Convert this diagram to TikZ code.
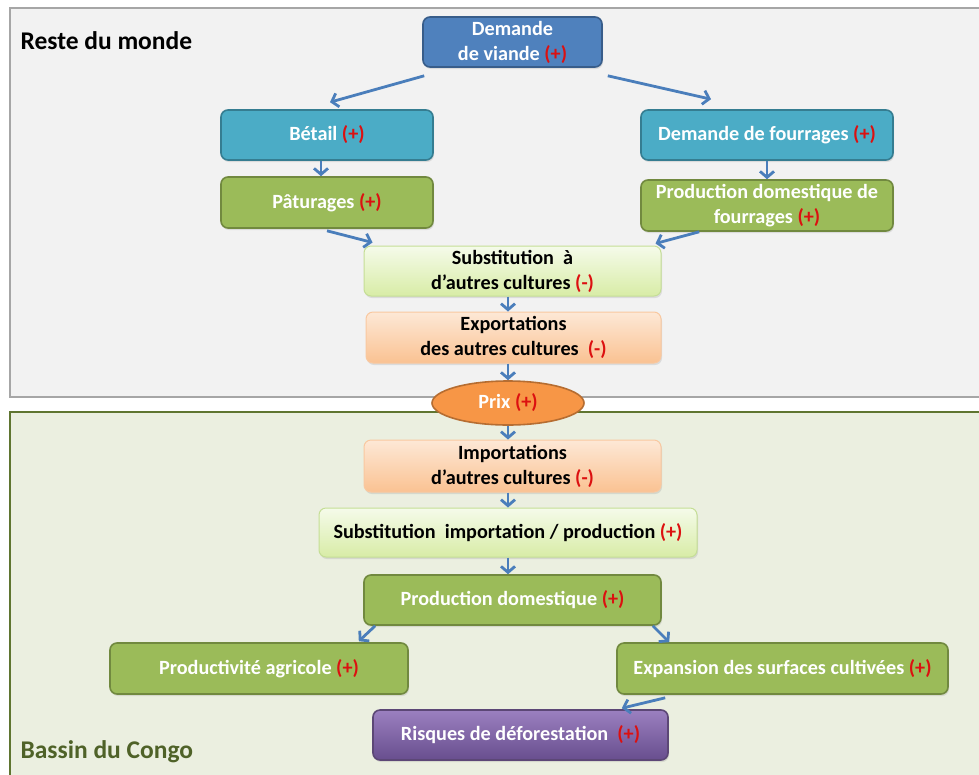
\documentclass[tikz,border=0pt]{standalone}
\usepackage{fontspec}
\setmainfont{Carlito}
\usetikzlibrary{arrows.meta,shapes.geometric,shadows}
\definecolor{topfill}{RGB}{242,242,242}
\definecolor{topline}{RGB}{166,166,166}
\definecolor{botfill}{RGB}{235,239,224}
\definecolor{botline}{RGB}{95,117,48}
\definecolor{congo}{RGB}{79,98,40}
\definecolor{arrowblue}{RGB}{74,126,187}
\definecolor{blueA}{RGB}{79,129,189}
\definecolor{blueB}{RGB}{56,93,138}
\definecolor{aquaA}{RGB}{75,172,198}
\definecolor{aquaB}{RGB}{53,125,145}
\definecolor{greenA}{RGB}{155,187,89}
\definecolor{greenB}{RGB}{113,137,63}
\definecolor{lgTop}{RGB}{245,251,234}
\definecolor{lgBot}{RGB}{216,236,166}
\definecolor{lgLine}{RGB}{197,222,150}
\definecolor{peTop}{RGB}{253,232,214}
\definecolor{peBot}{RGB}{250,194,146}
\definecolor{peLine}{RGB}{249,200,160}
\definecolor{orA}{RGB}{247,150,70}
\definecolor{orB}{RGB}{182,109,49}
\definecolor{puTop}{RGB}{155,128,192}
\definecolor{puBot}{RGB}{104,78,142}
\definecolor{puLine}{RGB}{92,71,118}
\definecolor{signred}{RGB}{220,16,16}
\newcommand\redplus{{\color{signred}(+)}}
\newcommand\redminus{{\color{signred}(-)}}
\tikzset{
  box/.style={rectangle, rounded corners=7pt, line width=1.6pt, align=center,
    inner sep=2pt, font=\fontsize{20.2}{25}\bfseries\selectfont,
    drop shadow={shadow xshift=1pt, shadow yshift=-2pt, opacity=0.2}},
  wbox/.style={box, text=white},
  kbox/.style={box, text=black},
  bluebox/.style={wbox, fill=blueA, draw=blueB},
  aquabox/.style={wbox, fill=aquaA, draw=aquaB},
  greenbox/.style={wbox, fill=greenA, draw=greenB},
  lgbox/.style={kbox, top color=lgTop, bottom color=lgBot, draw=lgLine, line width=1pt},
  pebox/.style={kbox, top color=peTop, bottom color=peBot, draw=peLine, line width=1pt},
  pubox/.style={wbox, top color=puTop, bottom color=puBot, draw=puLine},
  arr/.style={draw=arrowblue, line width=2.8pt, -{Straight Barb[length=6pt,width=14pt]}},
}
\begin{document}
\begin{tikzpicture}[x=1pt,y=-1pt]
\useasboundingbox (0,0) rectangle (979,774);
% panels
\draw[fill=topfill, draw=topline, line width=2pt] (10,8) rectangle (995,397);
\draw[fill=botfill, draw=botline, line width=2.5pt] (10,412) rectangle (995,795);
\node[anchor=west, font=\fontsize{25.5}{30}\bfseries\selectfont] (rdm) at (17,41) {Reste du monde};
\node[anchor=west, text=congo, font=\fontsize{25.5}{30}\bfseries\selectfont] (bdc) at (17,752) {Bassin du Congo};
% nodes
\node[bluebox, minimum width=179pt, minimum height=50pt] (dv) at (512.5,42) {Demande\\de viande \redplus};
\node[aquabox, minimum width=212pt, minimum height=50pt] (bt) at (327,135) {Bétail \redplus};
\node[aquabox, minimum width=252pt, minimum height=50pt] (df) at (767,135) {Demande de fourrages \redplus};
\node[greenbox, minimum width=212pt, minimum height=51pt] (pt) at (327,202.5) {Pâturages \redplus};
\node[greenbox, minimum width=252pt, minimum height=51pt] (pdf) at (767,205.5) {Production domestique de\\fourrages \redplus};
\node[lgbox, minimum width=297pt, minimum height=50pt] (sub) at (512.5,271) {Substitution~ à\\d’autres cultures \redminus};
\node[pebox, minimum width=295pt, minimum height=51pt] (exp) at (513.5,337.5) {Exportations\\des autres cultures~ \redminus};
\node[ellipse, fill=orA, draw=orB, line width=1.6pt, minimum width=152pt, minimum height=44pt,
  text=white, font=\fontsize{20.2}{25}\bfseries\selectfont] (prix) at (508,403) {Prix \redplus};
\node[pebox, minimum width=297pt, minimum height=52pt] (imp) at (512.5,466) {Importations\\d’autres cultures \redminus};
\node[lgbox, minimum width=378pt, minimum height=49pt] (sip) at (508,532.5) {Substitution~ importation / production \redplus};
\node[greenbox, minimum width=297pt, minimum height=50pt] (pd) at (512.5,600) {Production domestique \redplus};
\node[greenbox, minimum width=298pt, minimum height=51pt] (pa) at (259,668.5) {Productivité agricole \redplus};
\node[greenbox, minimum width=331pt, minimum height=51pt] (es) at (782.5,668.5) {Expansion des surfaces cultivées \redplus};
\node[pubox, minimum width=295pt, minimum height=50pt] (rd) at (520.5,735) {Risques de déforestation~ \redplus};
% connectors
\draw[arr] ([xshift=2pt,yshift=-8pt]dv.south west) -- ([xshift=3pt,yshift=7pt]bt.north);
\draw[arr] ([xshift=5pt,yshift=-8pt]dv.south east) -- ([xshift=-56pt,yshift=10pt]df.north);
\draw[arr] ([xshift=-6pt]bt.south) -- ([xshift=-6pt]pt.north);
\draw[arr] (df.south) -- (pdf.north);
\draw[arr] ([yshift=-2pt]pt.south) -- ([xshift=9pt,yshift=3pt]sub.north west);
\draw[arr] ([xshift=59pt]pdf.south west) -- ([xshift=-6pt,yshift=2pt]sub.north east);
\draw[arr] (sub.south -| prix.center) -- (exp.north -| prix.center);
\draw[arr] (exp.south -| prix.center) -- (prix.north);
\draw[arr] (prix.south) -- (imp.north -| prix.center);
\draw[arr] (imp.south -| prix.center) -- (sip.north -| prix.center);
\draw[arr] (sip.south -| prix.center) -- (pd.north -| prix.center);
\draw[arr] ([xshift=12pt]pd.south west) -- ([xshift=-50pt,yshift=1pt]pa.north east);
\draw[arr] ([xshift=-9pt]pd.south east) -- ([xshift=53pt]es.north west);
\draw[arr] ([xshift=49pt,yshift=-3pt]es.south west) -- ([xshift=-47pt,yshift=1pt]rd.north east);
\end{tikzpicture}
\end{document}
